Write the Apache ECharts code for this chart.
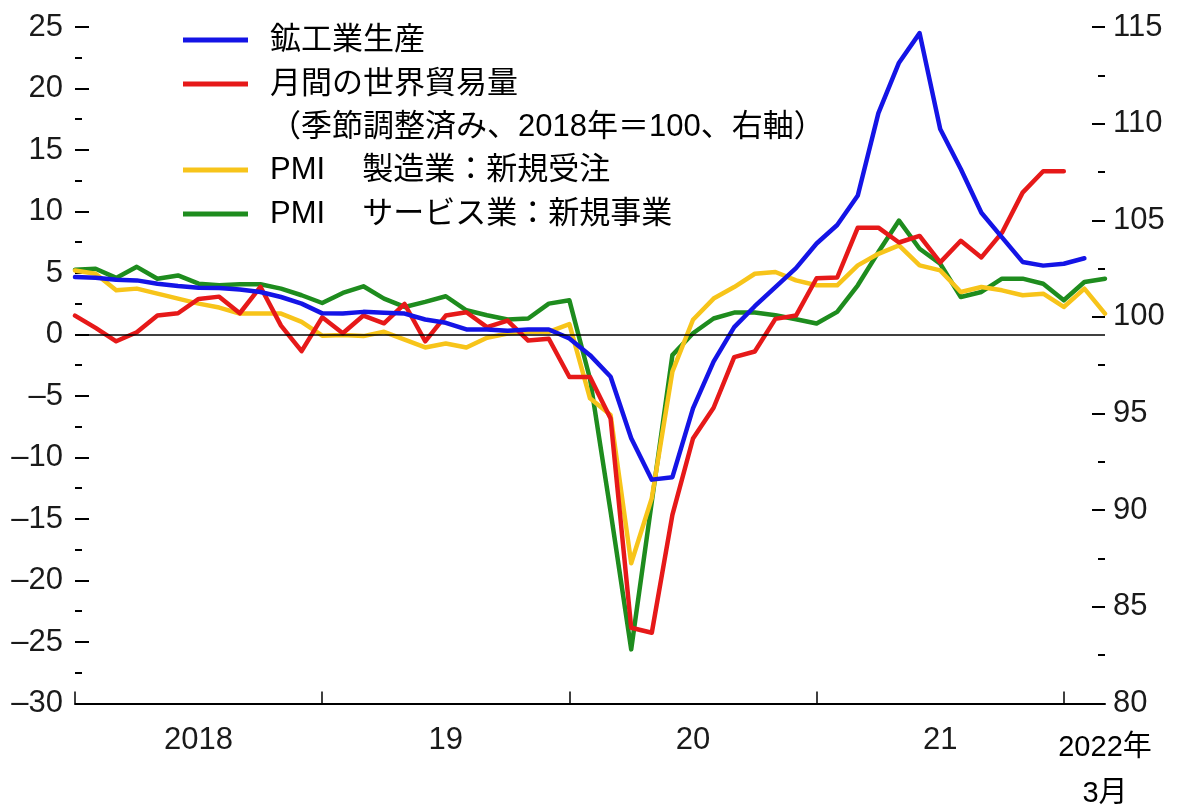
<!DOCTYPE html>
<html>
<head>
<meta charset="utf-8">
<script src="https://cdn.jsdelivr.net/npm/echarts@6/dist/echarts.min.js"></script>
<style>
html,body{margin:0;padding:0;background:#fff;}
#chart{width:1179px;height:808px;}
</style>
</head>
<body>
<div id="chart"></div>
<script>
// Month index 0 = 2018年1月 ... 50 = 2022年3月
const monthLabels = [];
for (let y = 2018; y <= 2022; y++) {
  for (let m = 1; m <= 12; m++) {
    if (y === 2022 && m > 3) break;
    monthLabels.push(y + '-' + (m < 10 ? '0' + m : m));
  }
}

// Series names (legend text)
const nameIP = '鉱工業生産';
const nameTrade = '月間の世界貿易量';
const tradeNote = '（季節調整済み、2018年＝100、右軸）';
const nameMfg = 'PMI\u3000\u2009製造業：新規受注';
const nameSvc = 'PMI\u3000\u2009サービス業：新規事業';

// 鉱工業生産 (left axis, %) 2018/1 - 2022/2
const industrialProduction = [
  4.67, 4.62, 4.46, 4.40, 4.13, 3.94, 3.81, 3.78, 3.65, 3.46, 3.05, 2.51,
  1.72, 1.70, 1.84, 1.76, 1.70, 1.22, 0.95, 0.41, 0.41, 0.30, 0.41, 0.41,
  -0.32, -1.68, -3.43, -8.43, -11.8, -11.6, -6.0, -2.2, 0.6, 2.3, 3.86, 5.4,
  7.4, 8.9, 11.3, 18.0, 22.1, 24.5, 16.7, 13.45, 9.9, 7.9, 5.9, 5.6,
  5.75, 6.2
];

// 月間の世界貿易量 (right axis, 2018=100) 2018/1 - 2022/1
const worldTrade = [
  100.07, 99.43, 98.74, 99.21, 100.07, 100.19, 100.93, 101.05, 100.19, 101.56, 99.55, 98.23,
  99.98, 99.16, 100.07, 99.67, 100.67, 98.74, 100.07, 100.24, 99.47, 99.81, 98.78, 98.87,
  96.89, 96.89, 94.74, 83.92, 83.66, 89.76, 93.71, 95.3, 97.92, 98.21, 99.9, 100.07,
  102.0, 102.04, 104.62, 104.62, 103.85, 104.19, 102.82, 103.94, 103.08, 104.36, 106.43, 107.54,
  107.54
];

// PMI 製造業：新規受注 (left axis) 2018/1 - 2022/3
const pmiMfgNewOrders = [
  5.2, 4.94, 3.59, 3.73, 3.32, 2.92, 2.51, 2.19, 1.70, 1.70, 1.70, 1.03,
  -0.1, -0.05, -0.13, 0.22, -0.41, -1.05, -0.73, -1.05, -0.27, 0.08, 0.22, 0.22,
  0.84, -5.19, -6.54, -18.6, -13.3, -3.02, 1.2, 2.92, 3.86, 4.94, 5.08, 4.40,
  4.0, 4.0, 5.62, 6.56, 7.24, 5.62, 5.21, 3.46, 3.86, 3.59, 3.19, 3.32,
  2.24, 3.73, 1.70
];

// PMI サービス業：新規事業 (left axis) 2018/1 - 2022/3
const pmiSvcNewBusiness = [
  5.27, 5.35, 4.6, 5.5, 4.53, 4.8, 4.13, 4.0, 4.08, 4.08, 3.73, 3.19,
  2.56, 3.38, 3.92, 2.92, 2.24, 2.65, 3.11, 1.97, 1.57, 1.22, 1.30, 2.51,
  2.78, -3.6, -14.4, -25.6, -13.6, -1.68, 0.1, 1.30, 1.78, 1.78, 1.57, 1.24,
  0.9, 1.84, 4.0, 6.7, 9.26, 6.97, 5.75, 3.05, 3.46, 4.54, 4.54, 4.13,
  2.78, 4.27, 4.54
];

// X axis ticks / labels (month indices)
const xTickMonths = [0, 12, 24, 36, 48];
const xLabelMonths = [6, 18, 30, 42, 50];
const xLabels = ['2018', '19', '20', '21', '2022年\n3月'];

const toPairs = arr => arr.map((v, i) => [i, v]);

const tickFont = "'Liberation Sans','Arial',sans-serif";
const jp = "'Liberation Sans','Noto Sans CJK JP',sans-serif";

const C_BLUE = '#1414e6', C_RED = '#e61919', C_YEL = '#f7c41a', C_GRN = '#1e8c1e';

const legendCommon = {
  orient: 'vertical', left: 183, icon: 'rect', itemWidth: 65, itemHeight: 5,
  itemGap: 10, padding: 0, selectedMode: false,
  textStyle: { fontFamily: jp, fontSize: 31, lineHeight: 34, color: '#000', padding: [0, 0, 0, 17] }
};

const minusFmt = v => (v < 0 ? '\u2013' + (-v) : String(v));

const lineSeries = (name, data, color, yIdx, extra) => Object.assign({
  name, type: 'line', data: toPairs(data), xAxisIndex: 0, yAxisIndex: yIdx,
  showSymbol: false, symbol: 'none', color, silent: true,
  lineStyle: { color, width: 4.5, cap: 'round', join: 'round' }
}, extra || {});

const option = {
  animation: false,
  backgroundColor: '#fff',
  grid: { left: 75, right: 74, top: 27, bottom: 102, containLabel: false },
  title: {
    text: tradeNote, left: 270, top: 110, padding: 0,
    textStyle: { fontFamily: jp, fontSize: 31, fontWeight: 'normal', color: '#000', lineHeight: 34 }
  },
  legend: [
    Object.assign({}, legendCommon, { top: 23, data: [nameIP, nameTrade] }),
    Object.assign({}, legendCommon, { top: 153, data: [nameMfg, nameSvc] })
  ],
  xAxis: {
    type: 'value', min: 0, max: 50, position: 'bottom',
    axisLine: { show: true, onZero: false, lineStyle: { color: '#000', width: 2 } },
    axisTick: { show: true, inside: true, length: 12, customValues: xTickMonths, lineStyle: { color: '#000', width: 1.5 } },
    axisLabel: {
      show: true, margin: 16, customValues: xLabelMonths, showMaxLabel: true, showMinLabel: true,
      formatter: v => {
        const k = xLabelMonths.indexOf(v);
        if (k < 0) return '';
        const t = xLabels[k];
        if (t.indexOf('\n') >= 0) {
          const parts = t.split('\n');
          return '{b1|' + parts[0] + '}\n{b2|' + parts[1] + '}';
        }
        return '{a|' + t + '}';
      },
      rich: {
        a: { fontFamily: tickFont, fontSize: 31, lineHeight: 42, color: '#1a1a1a' },
        b1: { fontFamily: jp, fontSize: 29, lineHeight: 56, color: '#000' },
        b2: { fontFamily: jp, fontSize: 29, lineHeight: 36, color: '#000' }
      }
    },
    splitLine: { show: false }
  },
  yAxis: [
    {
      type: 'value', min: -30, max: 25, interval: 5, position: 'left',
      axisLine: { show: false },
      axisTick: { show: true, inside: true, length: 14, lineStyle: { color: '#000', width: 2 } },
      minorTick: { show: true, splitNumber: 2, length: 7, lineStyle: { color: '#000', width: 2 } },
      axisLabel: { margin: 12, fontFamily: tickFont, fontSize: 31, color: '#1a1a1a', formatter: minusFmt },
      splitLine: { show: false }
    },
    {
      type: 'value', min: 80, max: 115, interval: 5, position: 'right',
      axisLine: { show: false },
      axisTick: { show: true, inside: true, length: 13, lineStyle: { color: '#000', width: 2 } },
      minorTick: { show: true, splitNumber: 2, length: 7, lineStyle: { color: '#000', width: 2 } },
      axisLabel: { margin: 8, fontFamily: tickFont, fontSize: 31, color: '#1a1a1a' },
      splitLine: { show: false }
    }
  ],
  series: [
    lineSeries(nameSvc, pmiSvcNewBusiness, C_GRN, 0, {
      markLine: {
        silent: true, symbol: ['none', 'none'], label: { show: false },
        lineStyle: { color: '#000', width: 1.5, type: 'solid' },
        emphasis: { disabled: true },
        data: [{ yAxis: 0 }]
      }
    }),
    lineSeries(nameMfg, pmiMfgNewOrders, C_YEL, 0),
    lineSeries(nameTrade, worldTrade, C_RED, 1),
    lineSeries(nameIP, industrialProduction, C_BLUE, 0)
  ]
};

const chart = echarts.init(document.getElementById('chart'), null, { renderer: 'canvas' });
chart.setOption(option);
</script>
</body>
</html>
